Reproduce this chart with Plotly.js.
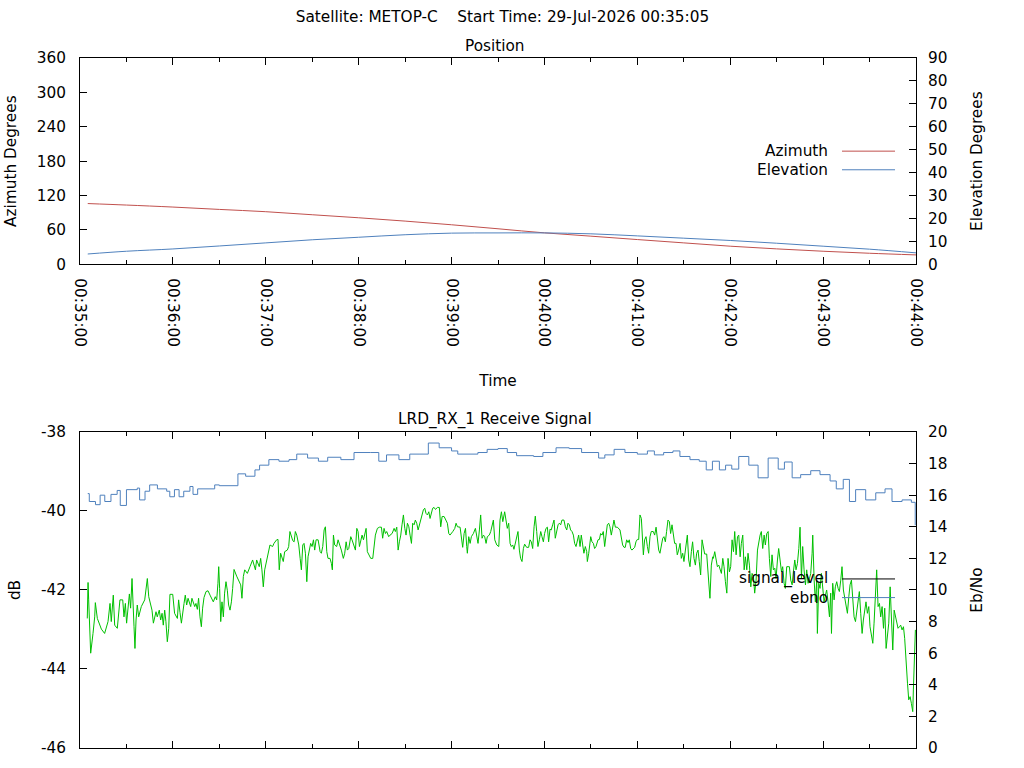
<!DOCTYPE html>
<html>
<head>
<meta charset="utf-8">
<script src="https://cdn.plot.ly/plotly-3.0.1.min.js"></script>
<style>
  html, body { margin: 0; padding: 0; background: #fff; }
  #plot { width: 1024px; height: 768px; }
</style>
</head>
<body>
<div id="plot"></div>
<script>
const PLOT_ID = 'plot';

// pass start, seconds are counted from 00:35:00
const START_MS = Date.UTC(2026, 6, 29, 0, 35, 0);
const END_SEC = 540;

// position (seconds from start)
const posTime = [5, 30, 60, 90, 120, 150, 180, 210, 240, 270, 300, 330, 360, 390, 420, 450, 480, 510, 540];
const azimuth = [106.0, 103.4, 99.9, 95.8, 91.8, 86.5, 81.2, 75.4, 69.0, 62.0, 54.9, 49.1, 43.2, 37.4, 31.6, 26.9, 22.8, 19.3, 16.4];
const elevation = [4.5, 5.7, 6.7, 8.0, 9.35, 10.7, 11.8, 12.9, 13.6, 13.7, 13.7, 13.3, 12.4, 11.4, 10.4, 9.2, 7.9, 6.6, 5.0];

// receive signal level, dB
const sigTime = [
  4.7, 5.2, 5.6, 6.9, 8.4, 9.5, 9.9, 11.2, 13.8, 15.9, 18.1, 19.4, 20.2, 21.5, 22.4, 24.1, 25.8, 27.6, 28.4, 29.3,
  30.1, 31.9, 32.7, 33.6, 34.9, 35.5, 36.2, 37.0, 37.9, 39.6, 41.8, 42.8, 43.5, 44.4, 46.5, 47.4, 49.1, 49.9, 51.2, 52.1,
  53.0, 53.8, 54.7, 55.5, 56.4, 57.3, 58.1, 59.9, 61.1, 62.9, 63.7, 64.6, 65.5, 67.2, 68.0, 68.9, 69.8, 71.5, 72.3, 74.1,
  74.9, 75.8, 76.6, 77.5, 78.4, 79.2, 80.1, 81.4, 82.7, 84.0, 86.1, 87.4, 88.3, 89.1, 89.6, 90.2, 90.9, 91.7, 92.6, 93.4,
  94.3, 95.2, 96.0, 96.9, 97.8, 98.6, 99.5, 101.2, 102.9, 103.8, 104.6, 105.5, 106.4, 108.1, 109.8, 110.7, 111.5, 113.3, 114.1, 115.8,
  116.7, 117.5, 118.4, 119.3, 120.1, 121.0, 122.7, 124.4, 125.3, 127.0, 127.9, 128.7, 129.6, 131.3, 132.2, 133.9, 134.8, 135.6, 137.4, 138.3,
  139.1, 140.0, 141.3, 142.2, 143.0, 143.9, 144.7, 145.6, 146.5, 147.3, 148.2, 149.0, 149.9, 150.8, 151.6, 152.5, 153.8, 155.1, 155.9, 156.8,
  157.7, 158.5, 159.4, 160.2, 161.5, 162.4, 163.0, 163.7, 164.5, 165.8, 166.7, 168.0, 168.8, 170.1, 171.0, 171.9, 172.7, 173.6, 174.9, 175.7,
  177.0, 177.9, 178.8, 179.6, 180.5, 181.3, 182.2, 183.1, 183.9, 184.8, 185.6, 186.9, 187.8, 189.1, 190.0, 190.8, 192.1, 193.4, 194.7, 195.5,
  196.4, 197.3, 198.1, 199.4, 200.3, 201.6, 202.9, 203.7, 204.6, 205.5, 206.3, 207.2, 208.0, 208.9, 209.8, 210.6, 211.5, 212.4, 213.2, 214.1,
  214.9, 215.8, 216.6, 217.5, 218.4, 219.2, 220.1, 221.0, 221.8, 222.7, 223.5, 224.4, 225.3, 226.1, 227.0, 227.8, 228.7, 229.6, 230.9, 232.1,
  233.0, 233.9, 235.2, 236.5, 237.3, 238.2, 239.0, 240.8, 242.1, 242.9, 243.8, 245.5, 246.4, 247.2, 248.1, 249.0, 249.8, 250.2, 251.1, 252.0,
  252.8, 254.1, 255.4, 256.3, 257.1, 258.0, 258.8, 259.7, 260.6, 261.4, 262.3, 263.1, 264.4, 265.3, 266.2, 267.0, 267.9, 269.2, 270.5, 271.3,
  272.2, 273.1, 274.3, 275.2, 276.0, 276.9, 277.8, 278.6, 279.5, 280.3, 281.2, 282.1, 282.9, 283.8, 284.6, 285.5, 286.4, 287.2, 288.5, 289.8,
  290.7, 291.5, 292.4, 293.3, 294.1, 295.0, 295.8, 296.7, 297.6, 298.4, 299.3, 300.1, 301.0, 301.9, 302.7, 303.6, 304.4, 305.3, 306.2, 307.0,
  307.9, 308.8, 309.6, 310.5, 311.3, 312.6, 313.5, 314.4, 315.2, 316.1, 316.9, 317.8, 318.7, 319.5, 320.4, 321.2, 322.1, 323.0, 323.8, 324.7,
  325.5, 326.4, 327.3, 327.7, 328.6, 329.9, 330.7, 331.6, 332.4, 333.3, 334.6, 335.5, 336.3, 337.2, 338.0, 338.9, 339.8, 340.6, 341.5, 342.3,
  343.2, 344.1, 344.9, 345.8, 347.1, 348.8, 349.7, 350.5, 351.4, 352.2, 353.1, 354.0, 354.8, 355.7, 356.5, 357.4, 358.3, 359.1, 360.0, 360.9,
  361.7, 362.6, 363.4, 363.9, 364.7, 365.6, 366.5, 367.3, 368.2, 369.0, 370.3, 371.2, 372.1, 372.9, 373.8, 374.6, 375.5, 376.4, 377.2, 378.1,
  378.9, 379.8, 380.7, 381.5, 382.4, 383.2, 384.1, 385.0, 385.8, 386.7, 387.6, 388.4, 389.3, 390.1, 391.0, 391.9, 392.3, 393.2, 394.0, 394.9,
  395.7, 396.6, 397.5, 398.3, 399.2, 400.0, 400.9, 401.8, 402.6, 403.5, 404.8, 405.6, 406.5, 406.9, 407.8, 408.7, 409.1, 410.0, 410.9, 411.7,
  412.6, 413.5, 414.3, 415.2, 416.0, 416.9, 417.8, 418.6, 419.5, 420.3, 421.2, 422.1, 422.9, 423.8, 424.7, 425.5, 426.4, 427.2, 428.1, 429.0,
  429.8, 430.7, 431.5, 432.4, 433.3, 434.1, 435.0, 435.8, 436.7, 437.6, 438.4, 439.3, 440.1, 441.0, 441.9, 442.7, 443.6, 444.5, 445.3, 446.2,
  447.0, 447.9, 448.8, 449.6, 450.5, 451.3, 452.2, 453.1, 453.9, 454.8, 455.6, 456.5, 457.4, 458.2, 459.1, 460.0, 460.8, 461.7, 462.5, 463.4,
  464.3, 465.1, 466.0, 466.8, 467.7, 468.6, 469.4, 470.3, 471.2, 472.0, 472.9, 473.3, 474.2, 475.0, 475.9, 476.3, 477.2, 478.0, 478.9, 479.8,
  480.6, 481.5, 482.3, 483.2, 484.1, 484.9, 485.4, 486.2, 487.1, 487.9, 488.8, 489.7, 490.5, 491.4, 492.2, 493.1, 494.0, 494.8, 495.7, 496.6,
  497.4, 498.3, 499.1, 500.0, 500.9, 501.7, 502.6, 503.4, 504.3, 505.2, 506.0, 506.9, 507.7, 508.6, 509.5, 510.3, 511.2, 512.1, 512.9, 513.8,
  514.6, 515.5, 516.4, 517.2, 518.1, 519.0, 519.8, 520.7, 521.5, 522.4, 523.3, 524.1, 525.0, 525.9, 526.7, 527.6, 528.4, 529.3, 530.1, 531.0,
  531.9, 532.7, 533.6, 534.5, 535.3, 536.2, 537.0, 537.9, 538.3, 538.8, 539.6
];
const sigDb = [
  -42.72, -41.81, -42.25, -43.60, -43.10, -42.68, -42.32, -42.72, -42.99, -43.10, -42.80, -42.34, -42.80, -42.13, -42.89, -42.97, -42.25, -42.25, -42.68, -42.34,
  -42.84, -42.10, -42.46, -41.71, -42.93, -43.48, -42.76, -42.38, -42.68, -42.42, -42.25, -41.87, -41.71, -42.17, -42.51, -42.84, -42.55, -42.68, -42.51, -42.76,
  -42.59, -42.89, -42.51, -42.80, -43.31, -42.97, -42.11, -42.11, -42.59, -42.72, -42.25, -42.57, -42.84, -42.34, -42.13, -42.38, -42.21, -42.42, -42.21, -42.42,
  -42.34, -42.49, -42.21, -42.68, -42.93, -42.46, -42.19, -42.04, -42.02, -42.13, -42.30, -42.17, -42.25, -41.83, -41.41, -41.96, -42.80, -42.30, -42.68, -42.08,
  -41.79, -42.02, -42.38, -42.51, -42.30, -41.96, -41.48, -41.65, -41.79, -41.87, -42.21, -41.66, -41.49, -41.58, -41.41, -41.33, -41.24, -41.49, -41.24, -41.41,
  -41.20, -41.49, -41.92, -41.49, -41.33, -41.11, -40.86, -40.90, -40.82, -40.73, -40.72, -41.49, -41.07, -41.28, -41.03, -40.99, -40.90, -40.52, -40.75, -40.78,
  -40.52, -40.61, -40.86, -41.20, -41.49, -40.86, -40.82, -41.07, -41.79, -41.16, -40.92, -40.82, -40.90, -40.73, -40.99, -40.73, -40.73, -41.03, -41.07, -40.90,
  -40.48, -40.40, -41.03, -41.20, -41.20, -41.33, -41.49, -40.61, -40.86, -40.90, -40.73, -40.86, -40.99, -41.20, -41.07, -40.78, -40.99, -40.95, -40.65, -40.73,
  -40.86, -40.99, -40.44, -40.52, -40.90, -40.73, -40.61, -40.73, -40.57, -40.44, -41.03, -41.11, -41.20, -41.20, -40.78, -40.61, -40.44, -40.41, -40.41, -40.69,
  -40.44, -40.57, -40.52, -40.65, -40.61, -40.57, -40.44, -40.52, -40.41, -40.99, -40.78, -40.61, -40.35, -40.10, -40.44, -40.61, -40.31, -40.40, -40.61, -40.82,
  -40.31, -40.35, -40.23, -40.31, -40.48, -40.35, -40.23, -40.06, -39.97, -39.93, -40.06, -40.10, -40.02, -40.19, -40.06, -39.93, -39.91, -39.96, -39.91, -39.91,
  -40.40, -40.14, -40.14, -40.23, -40.31, -40.57, -40.61, -40.52, -40.44, -40.31, -40.40, -40.41, -40.73, -40.92, -40.57, -40.44, -40.90, -41.07, -40.65, -40.82,
  -40.65, -40.57, -40.44, -40.65, -40.82, -40.48, -40.10, -40.69, -40.61, -40.65, -40.82, -40.65, -40.61, -40.52, -40.31, -40.23, -40.73, -40.86, -40.90, -40.23,
  -40.02, -40.27, -40.02, -40.31, -40.44, -40.31, -40.82, -40.90, -40.86, -40.97, -40.82, -40.61, -40.52, -40.99, -41.20, -41.28, -40.95, -40.84, -40.92, -40.92,
  -40.73, -40.78, -40.95, -40.40, -40.13, -40.52, -40.90, -40.73, -40.52, -40.65, -40.78, -40.57, -40.44, -40.41, -40.78, -40.46, -40.48, -40.35, -40.23, -40.69,
  -40.52, -40.35, -40.31, -40.35, -40.23, -40.23, -40.40, -40.48, -40.31, -40.35, -40.48, -40.52, -40.61, -40.82, -40.90, -40.73, -40.61, -40.90, -40.61, -40.86,
  -41.07, -40.90, -41.03, -41.28, -41.07, -40.65, -40.78, -40.82, -40.95, -40.90, -40.73, -40.72, -40.57, -40.61, -40.52, -40.90, -40.52, -40.35, -40.31, -40.40,
  -40.61, -40.35, -40.23, -40.41, -40.41, -40.48, -40.69, -40.86, -40.92, -40.92, -40.73, -40.80, -40.73, -40.95, -40.99, -40.95, -40.92, -40.78, -40.72, -40.72,
  -40.10, -40.19, -40.65, -41.11, -40.73, -40.65, -40.90, -41.07, -40.65, -40.52, -40.52, -40.61, -40.41, -40.78, -40.99, -41.07, -40.86, -40.69, -40.65, -40.78,
  -40.52, -40.23, -40.27, -40.57, -40.35, -40.61, -40.82, -40.82, -41.11, -40.99, -40.82, -41.20, -41.07, -41.28, -40.99, -40.80, -40.61, -41.24, -41.41, -41.03,
  -40.78, -41.20, -41.37, -41.07, -40.99, -41.28, -41.62, -40.73, -40.90, -41.09, -41.09, -41.66, -42.00, -42.21, -41.37, -41.16, -41.20, -41.03, -41.28, -41.41,
  -41.37, -41.49, -41.58, -41.20, -41.41, -41.79, -42.08, -41.20, -41.54, -41.41, -40.73, -41.03, -40.52, -41.11, -40.65, -40.61, -41.16, -40.82, -40.61, -41.49,
  -41.16, -41.49, -41.07, -41.37, -41.92, -41.58, -41.66, -42.08, -41.75, -40.99, -40.78, -40.61, -40.52, -40.95, -40.61, -40.86, -40.57, -40.52, -41.20, -41.66,
  -41.11, -41.49, -41.45, -41.71, -41.24, -40.95, -41.24, -41.54, -41.41, -41.83, -41.96, -41.41, -41.41, -41.41, -41.75, -41.87, -41.54, -41.24, -41.49, -41.33,
  -40.95, -40.41, -41.71, -40.90, -41.49, -41.87, -41.49, -41.83, -41.71, -41.58, -41.07, -40.61, -41.75, -42.30, -41.75, -43.10, -41.83, -41.96, -41.58, -42.00,
  -42.30, -42.13, -42.00, -42.30, -42.68, -42.08, -43.10, -41.83, -42.25, -41.92, -41.79, -41.96, -42.04, -41.75, -41.41, -42.00, -42.25, -42.42, -42.59, -42.17,
  -41.87, -41.75, -42.21, -42.68, -42.80, -42.51, -42.21, -42.04, -42.59, -43.10, -42.76, -42.46, -42.30, -42.59, -42.42, -42.93, -43.18, -43.35, -42.84, -42.21,
  -41.49, -42.42, -42.34, -42.68, -42.42, -42.97, -42.46, -43.48, -43.18, -42.84, -41.92, -42.93, -43.52, -42.51, -42.68, -42.89, -42.97, -42.93, -42.89, -43.01,
  -42.93, -43.23, -43.94, -44.36, -44.78, -44.70, -44.87, -45.08, -44.53, -43.86, -43.01
];

// Eb/No (right axis of the lower panel)
const ebnoTime = [
  5, 6, 10, 13, 16, 20, 24, 26, 30, 37, 38.5, 42, 45, 50, 56, 58, 61, 64, 67, 71,
  73, 76, 87, 90, 102, 107, 113, 116, 122, 128.5, 135, 140, 147, 154, 160, 168.5, 177, 187.5, 193, 198,
  206, 213, 219, 225, 232, 240, 244, 257, 263, 270, 276, 282, 293, 299, 307.5, 316, 324, 335, 339, 345,
  352, 360, 366.5, 371, 377, 383, 387.5, 394, 400, 404.5, 408.5, 413, 417, 421, 425.5, 432, 438, 444.5, 451, 455,
  460, 465.5, 472, 478, 484.5, 488.5, 493, 497, 501, 507.5, 514, 520, 524.5, 531, 537, 539.5
];
const ebnoVal = [
  16.1, 15.6, 15.4, 16.0, 15.6, 16.05, 16.3, 15.35, 16.35, 16.45, 15.7, 16.25, 16.65, 16.4, 16.25, 15.9, 16.35, 15.9, 16.25, 16.55,
  16.05, 16.4, 16.65, 16.6, 17.35, 17.2, 17.6, 17.9, 18.25, 18.15, 18.25, 18.6, 18.35, 18.15, 18.4, 18.25, 18.7, 18.7, 18.15, 18.55,
  18.25, 18.6, 18.6, 19.3, 19.0, 18.8, 18.6, 18.7, 18.9, 18.95, 18.7, 18.5, 18.45, 18.7, 19.0, 18.95, 18.7, 18.35, 18.55, 18.9,
  18.7, 18.6, 18.8, 18.55, 18.7, 18.8, 18.45, 18.25, 18.15, 17.6, 18.15, 17.6, 17.9, 17.65, 18.45, 17.9, 17.1, 18.35, 17.65, 18.1,
  17.1, 17.3, 17.55, 17.3, 16.9, 16.4, 17.0, 15.6, 16.35, 15.7, 16.15, 16.4, 15.6, 15.7, 15.55, 14.1
];

const dbTicks = [-46, -44, -42, -40, -38];
const dbTickText = ['-46', '-44', '-42', '-40', '-38'];

const RED = '#c0504d';
const BLUE = '#4f81bd';
const GREEN = '#00c000';
const FONT = 'DejaVu Sans, sans-serif';
const FS = 15.3;

const toMs = s => START_MS + s * 1000;
const timeRange = [toMs(0), toMs(END_SEC)];

const frameAxis = () => ({
    showline: true, linecolor: '#000', linewidth: 1,
    showgrid: false, zeroline: false,
    ticks: 'inside', ticklen: 7, tickcolor: '#000', tickwidth: 1,
    tickfont: { family: FONT, size: FS, color: '#000' },
    fixedrange: true
});

const timeAxis = (extra) => Object.assign(frameAxis(), {
    type: 'date', range: timeRange, dtick: 60000, tick0: toMs(0),
    tickformat: '%H:%M:%S', mirror: 'ticks',
    minor: { dtick: 30000, tick0: toMs(0), ticks: 'inside', ticklen: 4, tickcolor: '#000', showgrid: false }
}, extra);

const traces = [
    { x: posTime.map(toMs), y: azimuth, xaxis: 'x', yaxis: 'y', mode: 'lines', name: 'Azimuth',
      line: { color: RED, width: 1, shape: 'spline' }, hoverinfo: 'none' },
    { x: posTime.map(toMs), y: elevation, xaxis: 'x', yaxis: 'y2', mode: 'lines', name: 'Elevation',
      line: { color: BLUE, width: 1, shape: 'spline' }, hoverinfo: 'none' },
    { x: ebnoTime.map(toMs), y: ebnoVal, xaxis: 'x2', yaxis: 'y4', mode: 'lines', name: 'ebno',
      line: { color: BLUE, width: 1, shape: 'hv' }, hoverinfo: 'none' },
    { x: sigTime.map(toMs), y: sigDb, xaxis: 'x2', yaxis: 'y3', mode: 'lines', name: 'signal_level',
      line: { color: GREEN, width: 1 }, hoverinfo: 'none' }
];

// gnuplot style key: text right-aligned, sample line after it
const keyItems = [
    { text: 'Azimuth', y: 0.865, color: RED },
    { text: 'Elevation', y: 0.838, color: BLUE },
    { text: 'signal_level', y: 0.245, color: '#000' },
    { text: 'ebno', y: 0.218, color: BLUE }
];

const annotations = [
    { text: 'Position', x: 0.4964, y: 1.0174 },
    { text: 'LRD_RX_1 Receive Signal', x: 0.4964, y: 0.4754 }
].map(a => Object.assign({ xref: 'paper', yref: 'paper', xanchor: 'center', yanchor: 'middle',
    showarrow: false, font: { family: FONT, size: FS, color: '#000' } }, a));

keyItems.forEach(k => annotations.push({
    text: k.text, xref: 'paper', yref: 'paper', x: 0.897, y: k.y,
    xanchor: 'right', yanchor: 'middle', showarrow: false,
    font: { family: FONT, size: FS, color: '#000' }
}));

const shapes = keyItems.map(k => ({
    type: 'line', xref: 'paper', yref: 'paper',
    x0: 0.9115, x1: 0.9749, y0: k.y, y1: k.y,
    line: { color: k.color, width: 1 }
}));

const layout = {
    width: 1024, height: 768,
    paper_bgcolor: '#fff', plot_bgcolor: '#fff',
    font: { family: FONT, size: FS, color: '#000' },
    margin: { l: 80, r: 108, t: 58, b: 20 },
    showlegend: false,
    hovermode: false, dragmode: false,
    title: {
        text: 'Satellite: METOP-C\u00a0\u00a0\u00a0\u00a0Start Time: 29-Jul-2026 00:35:05',
        xref: 'container', yref: 'container', x: 0.4907, y: 0.978,
        xanchor: 'center', yanchor: 'middle',
        font: { family: FONT, size: FS, color: '#000' }
    },
    xaxis: timeAxis({ domain: [0, 1], anchor: 'y', tickangle: 90, ticklabelstandoff: 10,
        title: { text: 'Time', standoff: 29, font: { family: FONT, size: FS, color: '#000' } } }),
    yaxis: Object.assign(frameAxis(), { domain: [0.701, 1], anchor: 'x', range: [0, 360], dtick: 60,
        ticklabelstandoff: 10,
        title: { text: 'Azimuth Degrees', standoff: 16, font: { family: FONT, size: FS, color: '#000' } } }),
    yaxis2: Object.assign(frameAxis(), { overlaying: 'y', side: 'right', anchor: 'x', range: [0, 90], dtick: 10,
        ticklabelstandoff: 8,
        title: { text: 'Elevation Degrees', standoff: 24, font: { family: FONT, size: FS, color: '#000' } } }),
    xaxis2: timeAxis({ domain: [0, 1], anchor: 'y3', showticklabels: false }),
    yaxis3: Object.assign(frameAxis(), { domain: [0, 0.458], anchor: 'x2', range: [-46, -38],
        tickmode: 'array', tickvals: dbTicks, ticktext: dbTickText, ticklabelstandoff: 10,
        title: { text: 'dB', standoff: 16, font: { family: FONT, size: FS, color: '#000' } } }),
    yaxis4: Object.assign(frameAxis(), { overlaying: 'y3', side: 'right', anchor: 'x2', range: [0, 20], dtick: 2,
        ticklabelstandoff: 8,
        title: { text: 'Eb/No', standoff: 24, font: { family: FONT, size: FS, color: '#000' } } }),
    annotations: annotations,
    shapes: shapes
};

Plotly.newPlot(PLOT_ID, traces, layout, { displayModeBar: false, staticPlot: true });
</script>
</body>
</html>
